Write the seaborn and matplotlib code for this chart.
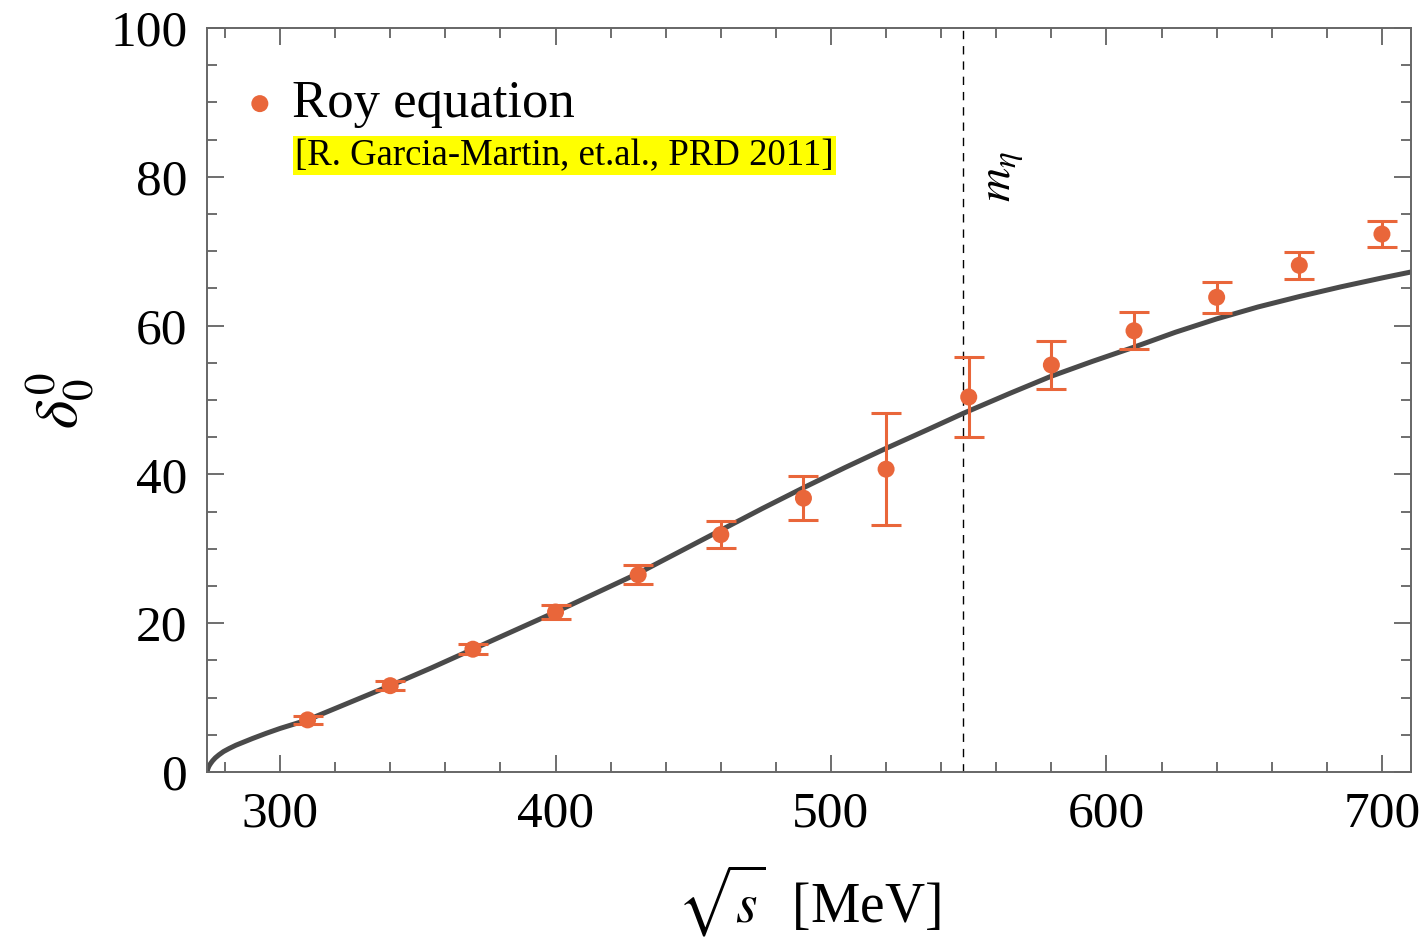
import numpy as np
import pandas as pd
import matplotlib
matplotlib.use("Agg")
import matplotlib.pyplot as plt
import seaborn as sns
from matplotlib.ticker import MultipleLocator

# Roy-equation phase shifts (sqrt(s) in MeV, delta in degrees)
roy_sqrt_s = [310, 340, 370, 400, 430, 460, 490, 520, 550, 580, 610, 640, 670, 700]
roy_delta = [7.0, 11.6, 16.5, 21.5, 26.5, 31.9, 36.8, 40.7, 50.4, 54.7, 59.3, 63.8, 68.1, 72.3]
roy_err = [0.5, 0.6, 0.7, 1.0, 1.3, 1.8, 3.0, 7.5, 5.4, 3.2, 2.5, 2.1, 1.8, 1.7]

# Model curve for the I=0 S-wave phase shift
curve_sqrt_s = [273.5, 273.8, 274.2, 274.8, 275.5, 276.5, 277.8, 279.5, 281.5, 284,
                287, 290, 295, 300, 310, 325, 340, 355, 370, 385, 400, 415, 430, 445,
                460, 475, 490, 505, 520, 535, 548, 565, 580, 595, 610, 625, 640, 655,
                670, 685, 700, 710.5]
curve_delta = [0.0, 0.45, 0.8, 1.15, 1.5, 1.9, 2.3, 2.75, 3.15, 3.6,
               4.05, 4.5, 5.2, 5.85, 7.0, 9.3, 11.6, 14.0, 16.5, 19.0, 21.5, 24.1, 26.7, 29.6,
               32.5, 35.4, 38.2, 40.9, 43.5, 46.0, 48.2, 50.9, 53.2, 55.2, 57.1, 59.1, 60.9, 62.5,
               63.9, 65.2, 66.4, 67.2]

m_eta = 547.86

sns.set_theme(style="ticks")
plt.rcParams["font.family"] = ["Liberation Serif", "DejaVu Serif"]
plt.rcParams["mathtext.fontset"] = "stix"
plt.rcParams["text.color"] = "black"
plt.rcParams["axes.labelcolor"] = "black"
plt.rcParams["xtick.labelcolor"] = "black"
plt.rcParams["ytick.labelcolor"] = "black"

orange = "#E9663A"
gray = "#4A4A4A"

fig = plt.figure(figsize=(14.28, 9.42), dpi=100)
ax = fig.add_axes([0.145, 0.1805, 0.843, 0.7898])

curve = pd.DataFrame({"x": curve_sqrt_s, "y": curve_delta})
sns.lineplot(data=curve, x="x", y="y", ax=ax, color=gray, linewidth=3.6,
             sort=False, zorder=2)

ax.axvline(m_eta, color="black", linestyle=(0, (6, 5)), linewidth=1.0, zorder=1)

ax.errorbar(roy_sqrt_s, roy_delta, yerr=roy_err, fmt="none", ecolor=orange,
            elinewidth=2.2, capsize=11, capthick=2.2, zorder=3)
pts = pd.DataFrame({"x": roy_sqrt_s, "y": roy_delta})
sns.scatterplot(data=pts, x="x", y="y", ax=ax, color=orange, s=150,
                edgecolor="none", label="Roy equation", zorder=4)

ax.set_xlim(273.5, 710.5)
ax.set_ylim(0, 100)
ax.xaxis.set_major_locator(MultipleLocator(100))
ax.xaxis.set_minor_locator(MultipleLocator(20))
ax.yaxis.set_major_locator(MultipleLocator(20))
ax.yaxis.set_minor_locator(MultipleLocator(5))
ax.tick_params(which="both", direction="in", top=True, right=True,
               color="#555555", width=1.2)
ax.tick_params(which="major", length=12, labelsize=37, pad=14)
ax.tick_params(which="minor", length=7)
for sp in ax.spines.values():
    sp.set_color("#666666")
    sp.set_linewidth(1.4)

ax.set_xlabel(r"$\sqrt{s}$  [MeV]", fontsize=40, labelpad=18)
ax.set_ylabel(r"$\delta_0^0$", fontsize=44, labelpad=10)

leg = ax.legend(loc="upper left", bbox_to_anchor=(0.0, 0.972), frameon=False,
                fontsize=38, handletextpad=0.2, handlelength=0.8,
                borderaxespad=0.3, borderpad=0.3, markerscale=1.0)

ax.text(0.073, 0.828, "[R. Garcia-Martin, et.al., PRD 2011]", transform=ax.transAxes,
        fontsize=26.5, va="center", ha="left",
        bbox=dict(facecolor="#FFFF00", edgecolor="none", pad=1.5))

ax.text(563, 80, r"$m_\eta$", rotation=90, fontsize=34, ha="center", va="center")

fig.savefig("out.png", dpi=100)
